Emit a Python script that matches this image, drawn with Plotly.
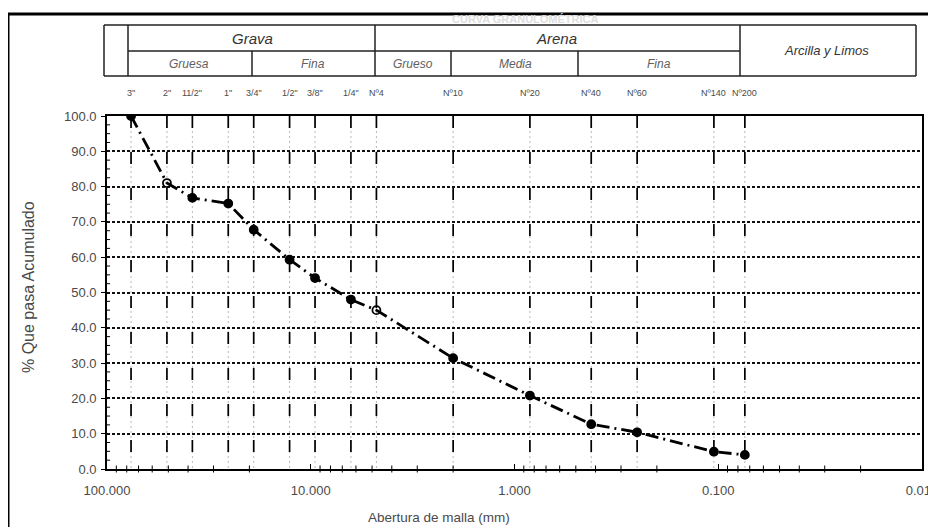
import math
import plotly.graph_objects as go

# ---------------- data ----------------
sieve_labels = ['3"', '2"', '11/2"', '1"', '3/4"', '1/2"', '3/8"', '1/4"', 'Nº4',
                'Nº10', 'Nº20', 'Nº40', 'Nº60', 'Nº140', 'Nº200']
sieve_mm = [76.2, 50.8, 38.1, 25.4, 19.05, 12.7, 9.525, 6.35, 4.76,
            2.0, 0.84, 0.42, 0.25, 0.105, 0.074]
pct_passing = [100.0, 81.0, 76.8, 75.2, 67.8, 59.3, 54.1, 48.0, 45.0,
               31.4, 20.8, 12.7, 10.4, 4.9, 4.0]
marker_symbols = ["circle", "circle-open", "circle", "circle", "circle", "circle", "circle",
                  "circle", "circle-open", "circle", "circle", "circle", "circle", "circle", "circle"]

x_tick_vals = [100, 10, 1, 0.1, 0.01]
x_tick_text = ["100.000", "10.000", "1.000", "0.100", "0.010"]
y_tick_vals = [0, 10, 20, 30, 40, 50, 60, 70, 80, 90, 100]
y_tick_text = ["0.0", "10.0", "20.0", "30.0", "40.0", "50.0", "60.0", "70.0", "80.0", "90.0", "100.0"]

x_title = "Abertura de malla (mm)"
y_title = "% Que pasa Acumulado"

# ---------------- layout geometry (screen pixels of the reference) ----------------
PAGE_OFF = 8            # default body margin of the html page
SW, SH = 936, 527       # screen size
PL, PR, PT, PB = 107, 922, 116, 469   # plot-area edges on screen
W, H = SW - PAGE_OFF, SH - PAGE_OFF
PW = PR - PL
PH = PB - PT
X_RANGE = [2, -2.0003]  # log10, reversed (tiny pad so the 0.010 label is kept)


def px_x(px):
    return (px - PL) / PW


def px_y(py):
    return (PB - py) / PH


def val_x(v):
    return (math.log10(v) - X_RANGE[0]) / (X_RANGE[1] - X_RANGE[0])


FONT_N = "Liberation Sans Narrow, Liberation Sans, Arial, sans-serif"
FONT = "Liberation Sans, Arial, sans-serif"
TXT = "#4a4a4a"

fig = go.Figure()

fig.add_trace(go.Scatter(
    x=sieve_mm, y=pct_passing, mode="lines+markers",
    line=dict(color="black", width=2.8, dash="13px,5px,2px,5px"),
    marker=dict(symbol=marker_symbols, size=8, color="black",
                line=dict(color="black", width=1.8)),
    showlegend=False, hoverinfo="x+y",
))

shapes = []
annotations = []

# sieve vertical lines
for v in sieve_mm:
    xp = val_x(v)
    shapes.append(dict(type="line", xref="paper", yref="y", x0=xp, x1=xp, y0=100, y1=0,
                       line=dict(color="#b8b8b8", width=1, dash="2px,3px"), layer="between"))
    shapes.append(dict(type="line", xref="paper", yref="y", x0=xp, x1=xp, y0=100, y1=0,
                       line=dict(color="black", width=1.7, dash="12px,24px"), layer="between"))

# minor log ticks along the bottom axis
tick_h = 3.5 / PH
for e in range(-2, 2):
    for m in range(2, 10):
        xp = val_x(m * 10 ** e)
        shapes.append(dict(type="line", xref="paper", yref="paper", x0=xp, x1=xp,
                           y0=-tick_h, y1=tick_h, line=dict(color="black", width=1)))
# minor ticks along the left axis
tick_w = 3.0 / PW
for k in range(40):
    yv = k * 2.5
    if yv % 10:
        shapes.append(dict(type="line", xref="paper", yref="y", x0=0, x1=tick_w,
                           y0=yv, y1=yv, line=dict(color="black", width=1)))

# sieve labels on top
for lab, v in zip(sieve_labels, sieve_mm):
    annotations.append(dict(text=lab, xref="paper", yref="paper", x=val_x(v), y=px_y(93),
                            showarrow=False, font=dict(family=FONT_N, size=9, color=TXT),
                            xanchor="center", yanchor="middle"))

# header table
ln = dict(color="#222", width=1.5)
rows = [px_y(25), px_y(51), px_y(76)]
cols_full = [104, 128, 375, 740, 916]
for c in cols_full:
    shapes.append(dict(type="line", xref="paper", yref="paper", x0=px_x(c), x1=px_x(c),
                       y0=rows[2], y1=rows[0], line=ln))
for c in [252, 451, 578]:
    shapes.append(dict(type="line", xref="paper", yref="paper", x0=px_x(c), x1=px_x(c),
                       y0=rows[2], y1=rows[1], line=ln))
shapes.append(dict(type="line", xref="paper", yref="paper", x0=px_x(104), x1=px_x(916),
                   y0=rows[0], y1=rows[0], line=ln))
shapes.append(dict(type="line", xref="paper", yref="paper", x0=px_x(104), x1=px_x(916),
                   y0=rows[2], y1=rows[2], line=ln))
shapes.append(dict(type="line", xref="paper", yref="paper", x0=px_x(128), x1=px_x(740),
                   y0=rows[1], y1=rows[1], line=ln))

header_main = [("Grava", 252, 38, 15), ("Arena", 556, 38, 15), ("Arcilla y Limos", 826, 51, 13)]
header_sub = [("Gruesa", 189), ("Fina", 313), ("Grueso", 413), ("Media", 515), ("Fina", 659)]
for t, cx, cy, fs in header_main:
    annotations.append(dict(text="<i>%s</i>" % t, xref="paper", yref="paper", x=px_x(cx), y=px_y(cy),
                            showarrow=False, font=dict(family=FONT, size=fs, color="#333"),
                            xanchor="center", yanchor="middle"))
for t, cx in header_sub:
    annotations.append(dict(text="<i>%s</i>" % t, xref="paper", yref="paper", x=px_x(cx), y=px_y(64),
                            showarrow=False, font=dict(family=FONT_N, size=12, color="#606060"),
                            xanchor="center", yanchor="middle"))

# faint cropped title
annotations.append(dict(text="<b>CURVA GRANULOMÉTRICA</b>", xref="paper", yref="paper",
                        x=px_x(525), y=px_y(19), showarrow=False,
                        font=dict(family=FONT, size=11, color="#dedede"),
                        xanchor="center", yanchor="middle"))

# axis titles
annotations.append(dict(text=y_title, xref="paper", yref="paper", x=px_x(28), y=px_y(287),
                        textangle=-90, showarrow=False,
                        font=dict(family=FONT, size=16, color=TXT),
                        xanchor="center", yanchor="middle"))
annotations.append(dict(text=x_title, xref="paper", yref="paper", x=px_x(439), y=px_y(517),
                        showarrow=False,
                        font=dict(family=FONT, size=13.5, color=TXT),
                        xanchor="center", yanchor="middle"))

# outer frame
shapes.append(dict(type="rect", xref="paper", yref="paper", x0=px_x(8), x1=px_x(960),
                   y0=px_y(560), y1=px_y(14), line=dict(color="black", width=3)))

fig.update_layout(
    width=W, height=H,
    margin=dict(l=PL - PAGE_OFF, r=SW - PR, t=PT - PAGE_OFF, b=SH - PB, autoexpand=False),
    paper_bgcolor="white", plot_bgcolor="white",
    showlegend=False,
    shapes=shapes, annotations=annotations,
    xaxis=dict(type="log", range=X_RANGE, tickmode="array", tickvals=x_tick_vals, ticktext=x_tick_text,
               ticks="inside", ticklen=5, tickcolor="black", showgrid=False, zeroline=False,
               showline=True, mirror=True, linecolor="black", linewidth=1.6,
               tickfont=dict(family=FONT, size=13, color=TXT), ticklabelstandoff=9,
               ticklabeloverflow="allow", automargin=False),
    yaxis=dict(range=[0, 100], tickmode="array", tickvals=y_tick_vals, ticktext=y_tick_text,
               ticks="outside", ticklen=4, tickcolor="black", showgrid=True, gridcolor="#111",
               griddash="3px,2px", gridwidth=1.5, zeroline=False,
               showline=True, mirror=True, linecolor="black", linewidth=1.6,
               tickfont=dict(family=FONT, size=13, color=TXT), ticklabelstandoff=2,
               automargin=False),
)

fig.write_html("out.html")
